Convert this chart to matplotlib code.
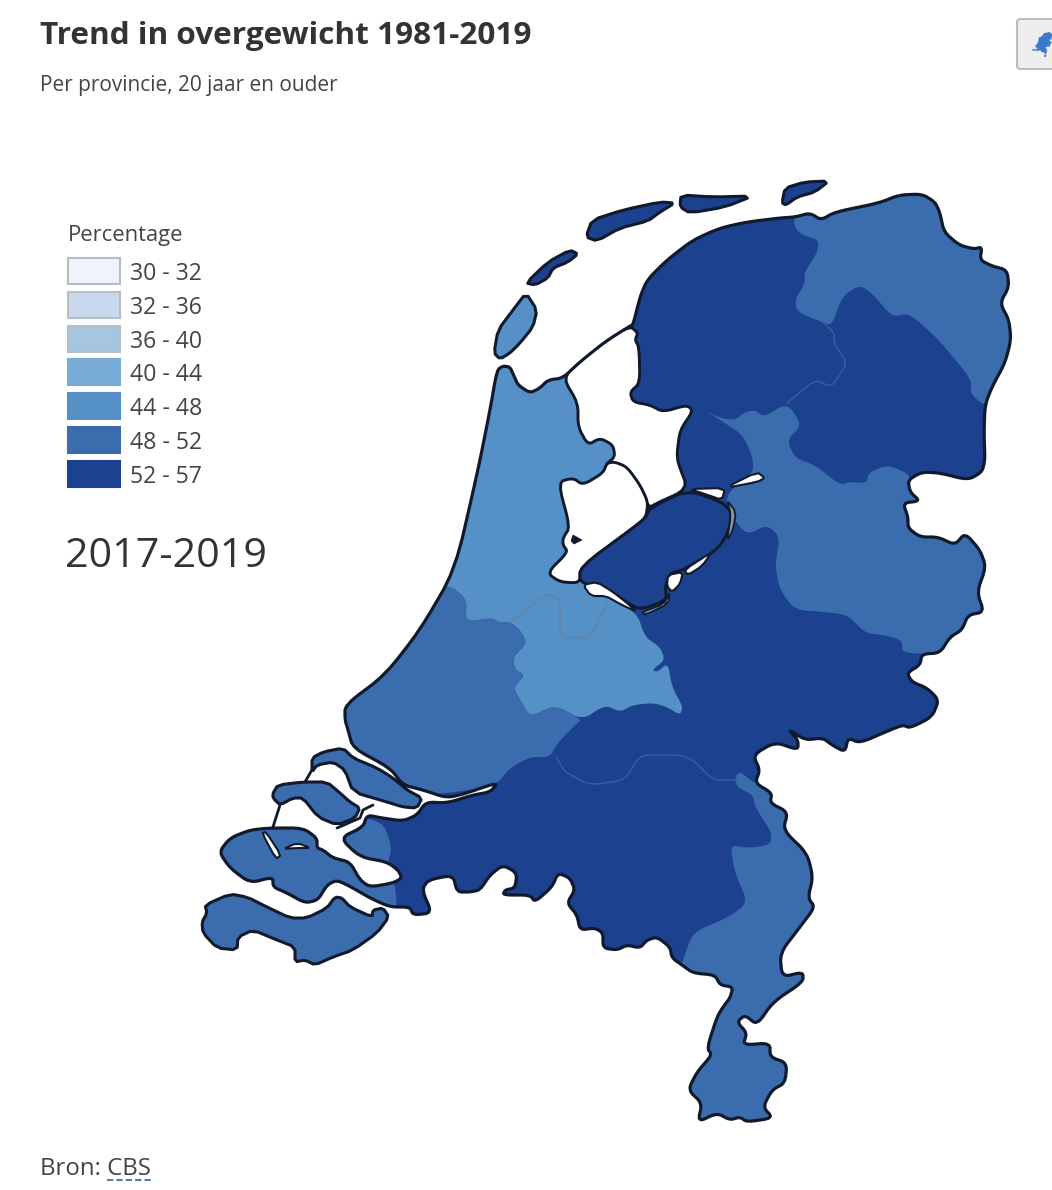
import matplotlib
matplotlib.use("Agg")
import matplotlib.pyplot as plt
import numpy as np
from matplotlib.patches import Polygon, Rectangle, FancyBboxPatch
from matplotlib.transforms import Affine2D

plt.rcParams["font.family"] = ["Open Sans", "DejaVu Sans"]

TITLE = "Trend in overgewicht 1981-2019"
SUBTITLE = "Per provincie, 20 jaar en ouder"
LEGEND_TITLE = "Percentage"
PERIOD = "2017-2019"
SOURCE_PREFIX = "Bron: "
SOURCE_LINK = "CBS"

legend_labels = ["30 - 32", "32 - 36", "36 - 40", "40 - 44", "44 - 48", "48 - 52", "52 - 57"]
legend_colors = ["#eef3fc", "#c8d9ee", "#a6c6e0", "#78abd6", "#5590c6", "#3a6cae", "#1c418e"]

# outlines, in pixels
mainland = [
    (497, 370), (503, 366), (510, 367), (514, 376), (518, 385), (530, 393), (540, 388), (548, 380),
    (563, 378), (580, 362), (605, 342), (630, 326), (633, 325), (640, 297), (647, 280), (667, 260),
    (693, 240), (720, 228), (747, 222), (780, 218), (795, 217), (810, 213), (821, 220), (835, 212),
    (879, 203), (899, 195), (922, 194), (935, 202), (940, 213), (944, 232), (959, 245), (974, 249),
    (982, 247), (980, 260), (992, 266), (1007, 270), (1009, 287), (1000, 303), (1009, 320), (1011, 340),
    (1005, 363), (992, 387), (985, 405), (984, 433), (985, 460), (982, 472), (968, 480), (940, 473),
    (922, 472), (908, 480), (910, 492), (920, 501), (903, 503), (908, 517), (908, 528), (920, 537),
    (938, 537), (955, 545), (965, 533), (980, 550), (986, 567), (977, 592), (984, 612), (968, 615),
    (962, 630), (950, 637), (940, 653), (922, 654), (920, 665), (907, 673), (912, 682), (927, 688),
    (939, 700), (932, 717), (910, 728), (903, 725), (890, 730), (860, 743), (848, 738), (845, 752),
    (832, 745), (823, 738), (805, 740), (788, 729), (798, 740), (798, 750), (775, 742), (753, 755),
    (760, 770), (755, 783), (772, 793), (770, 803), (788, 812), (783, 830), (807, 853), (813, 877),
    (808, 898), (815, 907), (800, 927), (780, 953), (782, 977), (803, 972), (803, 982), (773, 1002),
    (757, 1025), (745, 1015), (737, 1022), (747, 1033), (743, 1045), (770, 1043), (770, 1057), (787, 1063),
    (785, 1083), (772, 1090), (763, 1107), (773, 1118), (747, 1122), (740, 1117), (730, 1120), (717, 1113),
    (698, 1122), (702, 1103), (688, 1090), (697, 1072), (712, 1055), (707, 1048), (717, 1017), (723, 1007),
    (730, 998), (733, 987), (720, 985), (715, 975), (693, 973), (682, 965), (672, 958), (670, 947),
    (657, 937), (647, 940), (640, 948), (627, 945), (617, 950), (603, 948), (603, 933), (595, 928),
    (580, 930), (577, 915), (567, 903), (575, 890), (570, 878), (558, 873), (552, 887), (535, 902),
    (530, 895), (503, 895), (505, 890), (515, 888), (517, 873), (503, 865), (490, 875), (480, 890),
    (470, 892), (457, 892), (453, 875), (428, 880), (422, 890), (432, 913), (413, 915), (410, 907),
    (390, 907), (370, 898), (353, 888), (337, 880), (327, 885), (318, 900), (305, 903), (287, 893),
    (273, 887), (273, 877), (250, 883), (230, 868), (219, 852), (230, 838), (250, 830), (270, 828),
    (303, 828), (317, 838), (317, 848), (323, 850), (333, 858), (350, 862), (360, 880), (370, 887),
    (393, 883), (402, 878), (398, 870), (387, 862), (360, 857), (340, 838), (363, 827), (367, 815),
    (382, 818), (403, 821), (417, 815), (426, 802), (447, 803), (473, 795), (490, 792), (497, 784),
    (490, 785), (467, 793), (447, 798), (423, 790), (403, 785), (390, 768), (353, 748), (348, 730),
    (345, 720), (345, 705), (385, 675), (420, 630), (455, 570), (478, 470), (490, 410),
]

groningen = [
    (795, 200), (794, 227), (802, 235), (819, 240), (817, 253), (804, 273), (805, 283), (795, 300),
    (797, 312), (824, 323), (832, 325), (842, 297), (859, 285), (872, 293), (892, 317), (909, 313),
    (939, 340), (972, 380), (970, 393), (984, 406), (1030, 406), (1030, 180), (795, 180),
]
overijssel = [
    (705, 410), (720, 418), (735, 420), (745, 412), (755, 410), (764, 417), (787, 403), (802, 425),
    (787, 440), (795, 458), (815, 465), (840, 485), (850, 482), (867, 483), (868, 473), (887, 465),
    (908, 473), (915, 490), (1000, 500), (1000, 654), (922, 654), (902, 652), (902, 640), (883, 635),
    (865, 633), (848, 615), (825, 612), (795, 610), (780, 590), (775, 565), (780, 537), (767, 525),
    (747, 535), (732, 517), (725, 495), (753, 473), (753, 460), (747, 443), (740, 433), (720, 420),
]
noord_holland_utrecht = [
    (470, 355), (570, 355), (625, 460), (600, 590), (637, 613), (645, 637), (660, 647), (665, 660),
    (652, 670), (657, 672), (668, 663), (672, 687), (683, 707), (680, 715), (667, 707), (653, 703),
    (633, 705), (620, 712), (605, 705), (582, 720), (555, 705), (530, 717), (522, 703), (513, 688),
    (525, 675), (515, 670), (513, 657), (527, 643), (520, 630), (510, 622), (500, 623), (492, 618),
    (480, 620), (465, 620), (467, 600), (450, 585), (400, 585),
]
zuid_holland = [
    (400, 585), (450, 585), (467, 600), (465, 620), (480, 620), (492, 618), (500, 623), (510, 622),
    (520, 630), (527, 643), (513, 657), (515, 670), (525, 675), (513, 688), (522, 703), (530, 717),
    (555, 705), (582, 720), (575, 725), (556, 745), (550, 757), (530, 757), (510, 768), (497, 784),
    (470, 790), (430, 795), (400, 790), (330, 760), (320, 690),
]
zeeland_land = [
    (330, 815), (382, 820), (392, 847), (388, 862), (395, 887), (397, 905), (390, 920), (200, 920), (200, 815),
]
limburg = [
    (735, 777), (740, 772), (748, 778), (756, 784), (830, 784), (830, 1140), (680, 1140), (670, 1000),
    (683, 960), (693, 932), (727, 918), (748, 903), (735, 873), (730, 845), (747, 848), (770, 845),
    (772, 833), (755, 807), (753, 795), (737, 787),
]

ijsselmeer = [
    (563, 378), (580, 362), (605, 342), (630, 326), (638, 333), (635, 340), (639, 347), (640, 383),
    (630, 392), (633, 402), (650, 405), (663, 412), (687, 405), (693, 411), (680, 430), (677, 453),
    (678, 463), (688, 489), (653, 505), (650, 508), (615, 462), (605, 465), (615, 457), (613, 445),
    (600, 438), (588, 445), (578, 427), (578, 403),
]
markermeer = [
    (615, 462), (627, 467), (640, 485), (648, 502), (646, 517), (637, 525), (580, 567), (580, 583),
    (560, 582), (547, 573), (568, 552), (563, 545), (563, 538), (570, 527), (558, 482), (573, 478),
    (583, 485), (603, 473), (607, 463),
]
flevoland = [
    (580, 567), (637, 525), (646, 517), (650, 508), (687, 490), (722, 502), (732, 513), (728, 533),
    (717, 550), (683, 570), (670, 573), (665, 587), (667, 600), (640, 610), (623, 600), (605, 587), (580, 583),
]
white_slivers = [
    [(689, 489), (725, 488), (722, 500), (705, 494)],
    [(725, 488), (757, 472), (765, 478), (757, 482)],
    [(668, 575), (683, 572), (680, 584), (672, 592), (667, 586)],
    [(684, 570), (712, 552), (702, 566), (688, 575)],
    [(583, 585), (597, 582), (613, 592), (627, 603), (637, 612), (620, 604), (606, 596), (591, 596)],
    [(262, 833), (266, 832), (281, 855), (276, 859)],
    [(283, 849), (297, 843), (311, 848), (297, 848)],
]
gray_slivers = [
    [(727, 500), (736, 512), (733, 530), (727, 541), (731, 515)],
    [(642, 612), (664, 604), (670, 592), (668, 604), (645, 615)],
]
pampus = [(573, 535), (582, 540), (574, 544), (571, 541)]

texel = [(526, 293), (537, 310), (533, 327), (520, 343), (510, 353), (500, 359), (494, 353), (498, 330), (513, 310)]
vlieland = [(526, 283), (548, 262), (570, 250), (578, 254), (568, 262), (553, 268), (548, 278), (535, 285)]
terschelling = [(586, 237), (592, 220), (623, 210), (660, 202), (675, 203), (660, 212), (648, 221), (620, 228), (597, 241)]
ameland = [(680, 207), (681, 195), (713, 197), (753, 196), (725, 207), (690, 213)]
schiermonnikoog = [(782, 203), (785, 188), (805, 182), (829, 181), (815, 192), (797, 197), (786, 205)]

goeree = [
    (312, 758), (323, 752), (343, 748), (353, 758), (377, 768), (393, 778), (407, 790), (422, 798),
    (417, 808), (403, 807), (387, 802), (353, 792), (345, 770), (333, 762), (317, 765), (312, 772),
]
schouwen = [
    (273, 793), (278, 785), (303, 782), (327, 782), (340, 793), (350, 802), (360, 808), (355, 818),
    (337, 825), (318, 817), (303, 798), (293, 798), (280, 805), (273, 798),
]
vlaanderen = [
    (205, 905), (230, 894), (247, 897), (267, 907), (290, 918), (307, 918), (327, 908), (335, 897),
    (342, 898), (350, 907), (372, 917), (373, 910), (383, 908), (389, 917), (377, 933), (353, 950),
    (333, 957), (315, 965), (305, 960), (295, 962), (295, 947), (277, 940), (253, 930), (238, 937),
    (237, 950), (217, 948), (203, 933), (202, 922), (207, 913),
]

border_friesland = [
    (824, 323), (834, 333), (834, 343), (847, 363), (832, 387), (815, 380), (787, 403),
]
border_noord_holland_utrecht = [
    (510, 622), (548, 593), (560, 600), (560, 637), (590, 638), (608, 602),
]
border_gelderland_brabant = [
    (556, 757), (565, 772), (590, 785), (625, 780), (640, 755), (680, 755), (693, 760), (713, 780), (737, 780),
]
connectors = [
    [(305, 782), (313, 768)],
    [(273, 827), (280, 805)],
    [(337, 828), (360, 818), (363, 810), (373, 805)],
    [(396, 780), (406, 788)],
]

DARK = legend_colors[6]
MID = legend_colors[5]
LIGHT = legend_colors[4]
COAST = "#111a2c"


def smooth(points, passes=2, closed=True):
    # corner cutting, so the traced outlines do not look angular
    pts = np.asarray(points, dtype=float)
    for _ in range(passes):
        if closed:
            nxt = np.roll(pts, -1, axis=0)
            pts = np.column_stack([0.8 * pts + 0.2 * nxt, 0.2 * pts + 0.8 * nxt]).reshape(-1, 2)
        else:
            nxt = pts[1:]
            cut = np.column_stack([0.85 * pts[:-1] + 0.15 * nxt, 0.15 * pts[:-1] + 0.85 * nxt]).reshape(-1, 2)
            pts = np.vstack([pts[0], cut, pts[-1]])
    return pts


fig = plt.figure(figsize=(10.52, 11.9), dpi=100)
ax = fig.add_axes([0, 0, 1, 1])
ax.set_xlim(0, 1052)
ax.set_ylim(1190, 0)
ax.axis("off")

land = Polygon(smooth(mainland), closed=True, facecolor=DARK, edgecolor="none", zorder=1)
ax.add_patch(land)

province_fills = [
    (groningen, MID),
    (overijssel, MID),
    (noord_holland_utrecht, LIGHT),
    (zuid_holland, MID),
    (zeeland_land, MID),
    (limburg, MID),
]
for outline, color in province_fills:
    patch = Polygon(smooth(outline), closed=True, facecolor=color, edgecolor="none", zorder=2)
    ax.add_patch(patch)
    patch.set_clip_path(land)

inner_lines = [
    (border_friesland, "#3a5c98"),
    (border_noord_holland_utrecht, "#6484a4"),
    (border_gelderland_brabant, "#3a5c98"),
]
for line, color in inner_lines:
    xy = smooth(line, 2, closed=False)
    ax.plot(xy[:, 0], xy[:, 1], color=color, lw=1.1, zorder=3, solid_capstyle="round")

ax.add_patch(Polygon(smooth(mainland), closed=True, facecolor="none", edgecolor=COAST, lw=2.3, joinstyle="round", zorder=4))

for hole in [ijsselmeer, markermeer]:
    ax.add_patch(Polygon(smooth(hole), closed=True, facecolor="white", edgecolor=COAST, lw=2.1, joinstyle="round", zorder=5))
ax.add_patch(Polygon(smooth(flevoland), closed=True, facecolor=DARK, edgecolor=COAST, lw=2.1, joinstyle="round", zorder=6))
for sliver in white_slivers:
    ax.add_patch(Polygon(smooth(sliver, 1), closed=True, facecolor="white", edgecolor=COAST, lw=1.5, joinstyle="round", zorder=7))
for sliver in gray_slivers:
    ax.add_patch(Polygon(smooth(sliver, 1), closed=True, facecolor="#8a93a3", edgecolor=COAST, lw=1.3, joinstyle="round", zorder=7))
ax.add_patch(Polygon(pampus, closed=True, facecolor=COAST, edgecolor=COAST, lw=0.5, zorder=7))

islands = [
    (texel, LIGHT),
    (vlieland, DARK),
    (terschelling, DARK),
    (ameland, DARK),
    (schiermonnikoog, DARK),
    (goeree, MID),
    (schouwen, MID),
    (vlaanderen, MID),
]
for outline, color in islands:
    ax.add_patch(Polygon(smooth(outline, 1), closed=True, facecolor=color, edgecolor=COAST, lw=2.2, joinstyle="round", zorder=5))

for line in connectors:
    xy = np.array(line)
    ax.plot(xy[:, 0], xy[:, 1], color=COAST, lw=2, zorder=8, solid_capstyle="round")

# legend
ax.text(68, 235, LEGEND_TITLE, fontsize=15.8, color="#444444", ha="left", va="center")
for i, (label, color) in enumerate(zip(legend_labels, legend_colors)):
    y = 258 + i * 33.8
    ax.add_patch(Rectangle((68, y), 52, 26, facecolor=color, edgecolor="#b8bcc4" if i < 3 else color, lw=1.5, zorder=2))
    ax.text(130, y + 16, label, fontsize=16.6, color="#444444", ha="left", va="center")
ax.text(65, 557, PERIOD, fontsize=29.6, color="#333333", ha="left", va="center")

# header and footer
ax.text(40, 36, TITLE, fontsize=22.65, fontweight="bold", color="#333333", ha="left", va="center")
ax.text(40, 85, SUBTITLE, fontsize=15, color="#444444", ha="left", va="center")
ax.text(40, 1169, SOURCE_PREFIX + SOURCE_LINK, fontsize=17.3, color="#444444", ha="left", va="center")
ax.plot([107, 152], [1180, 1180], color="#4f7fa8", lw=1.5, ls=(0, (3, 1.5)))

# map button, top right
ax.add_patch(FancyBboxPatch((1017, 19), 60, 50, boxstyle="round,pad=0,rounding_size=3",
                            facecolor="#eeeeee", edgecolor="#bdbdbd", lw=1.5, clip_on=True))
icon = Affine2D().translate(-219, -194).scale(0.0255, 0.027).translate(1032, 32)
ax.add_patch(Polygon(mainland, closed=True, facecolor="#3a7ac8", edgecolor="none",
                     transform=icon + ax.transData, zorder=3))

fig.savefig("out.png", dpi=100)
